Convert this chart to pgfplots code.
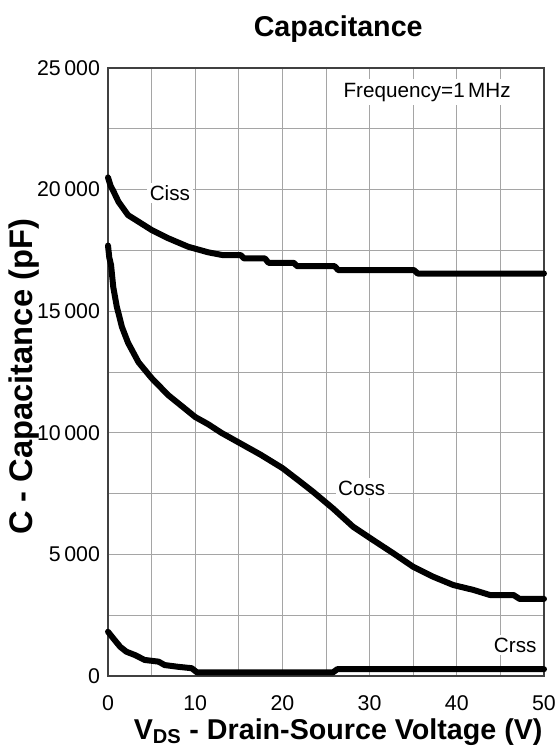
\documentclass[border=0pt]{standalone}
\usepackage{fontspec}
\setmainfont{Liberation Sans}
\usepackage{pgfplots}
\pgfplotsset{compat=1.18}
\definecolor{gridgray}{RGB}{165,165,165}
\begin{document}
\begin{tikzpicture}
\path[use as bounding box] (-81pt,-54.75pt) rectangle (338.25pt,507pt);
\begin{axis}[
  scale only axis,
  width=327pt, height=456pt,
  at={(0,0)}, anchor=south west,
  xmin=0, xmax=50, ymin=0, ymax=25000,
  xtick={0,10,...,50},
  ytick={0,5000,...,25000},
  minor x tick num=1,
  minor y tick num=1,
  grid=both,
  major grid style={gridgray, line width=0.7pt},
  minor grid style={gridgray, line width=0.7pt},
  major tick length=0pt, minor tick length=0pt,
  axis line style={black!75, line width=0.9pt},
  tick label style={font=\fontsize{16}{18}\selectfont},
  /pgf/number format/assume math mode=true,
  /pgf/number format/1000 sep={\,},
  scaled y ticks=false,
  xticklabel style={yshift=-11pt},
  yticklabel style={xshift=-2.5pt},
  title={\bfseries Capacitance},
  title style={font=\fontsize{21.5}{24}\selectfont, at={(rel axis cs:0.528,1)}, anchor=center, yshift=23pt},
  xlabel={\bfseries V\textsubscript{DS} - Drain-Source Voltage (V)},
  xlabel style={font=\fontsize{21.5}{24}\selectfont, at={(rel axis cs:0.528,0)}, anchor=center, yshift=-42pt},
  ylabel={\bfseries C - Capacitance (pF)},
  ylabel style={font=\fontsize{24.5}{28}\selectfont, at={(rel axis cs:0,0.492)}, anchor=center, yshift=63pt},
  clip=false,
]
% Ciss
\addplot[black, no marks, line width=4.5pt, line join=round, line cap=round] coordinates {
(0,20500) (0.3,20150) (0.6,19950) (1.2,19500) (2.3,18950) (3.5,18680)
(5.0,18340) (6.9,18000) (9.2,17650) (11.5,17420) (13.1,17310) (15.2,17310)
(15.6,17170) (18.0,17170) (18.4,16990) (21.3,16990) (21.7,16850) (26.0,16850)
(26.4,16690) (35.1,16690) (35.5,16550) (50,16550)
};
% Coss
\addplot[black, no marks, line width=4.5pt, line join=round, line cap=round] coordinates {
(0,17700) (0.15,17200) (0.35,16900) (0.6,16000) (1.0,15200) (1.6,14350)
(2.3,13700) (3.5,12900) (5.0,12250) (6.9,11550) (8.8,11000) (10,10650)
(11.5,10350) (13,10000) (15,9600) (17.5,9100) (20,8550) (22,8000)
(23.5,7580) (25.8,6890) (28.1,6140) (30.4,5590) (32.7,5050) (35,4490)
(37.3,4080) (39.6,3740) (41.9,3540) (43.8,3330) (46.5,3330) (47.2,3170) (50,3170)
};
% Crss
\addplot[black, no marks, line width=4.5pt, line join=round, line cap=round] coordinates {
(0,1820) (0.6,1550) (1.4,1200) (2.1,1000) (3.1,860) (4.2,660) (5.8,590)
(6.5,450) (8.0,380) (9.6,320) (10.2,150) (25.8,150) (26.3,280) (50,280)
};
\node[fill=white, inner sep=2pt, font=\fontsize{15.5}{18}\selectfont] at (axis cs:7.1,19860) {Ciss};
\node[fill=white, inner sep=2pt, font=\fontsize{15.5}{18}\selectfont] at (axis cs:29.1,7730) {Coss};
\node[fill=white, inner sep=2pt, font=\fontsize{15.5}{18}\selectfont] at (axis cs:46.7,1275) {Crss};
\node[fill=white, inner sep=3pt, font=\fontsize{15.5}{18}\selectfont] at (axis cs:36.6,24010) {Frequency=1\,MHz};
\end{axis}
\end{tikzpicture}
\end{document}
